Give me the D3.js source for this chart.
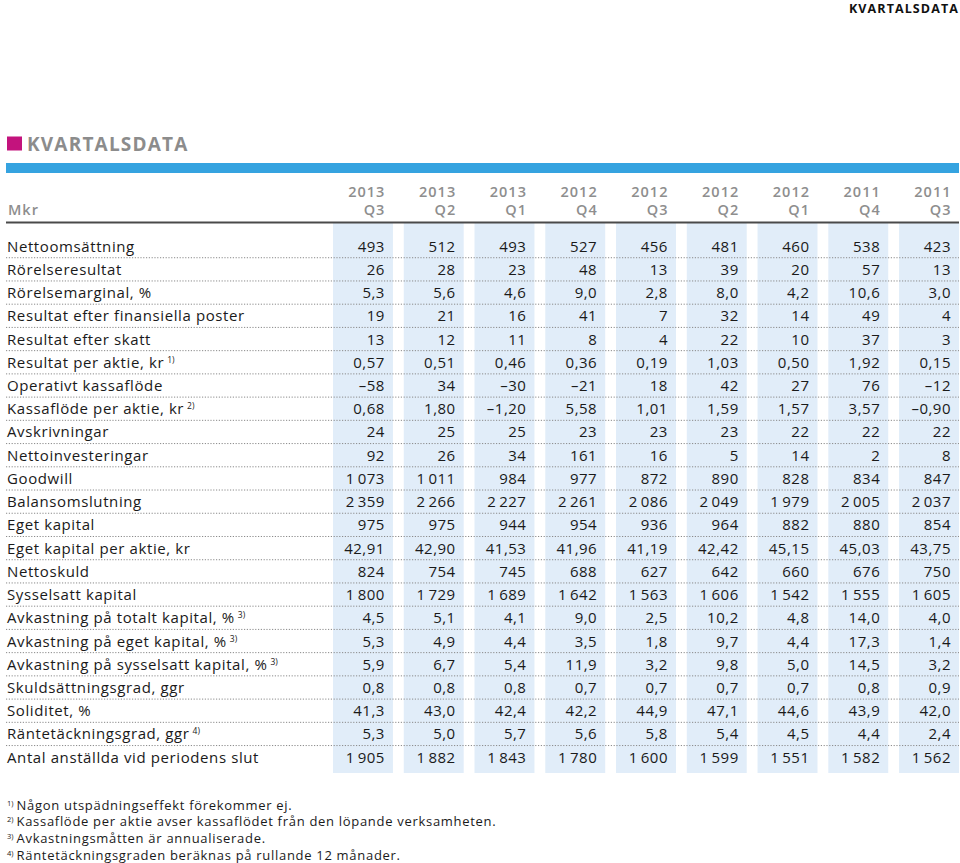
<!DOCTYPE html>
<html>
<head>
<meta charset="utf-8">
<script src="https://cdn.jsdelivr.net/npm/d3@7"></script>
<style>
  html, body { margin: 0; padding: 0; background: #fff; }
  svg { display: block; }
  text { font-family: "Open Sans", "Noto Sans", sans-serif; }
</style>
</head>
<body>
<svg id="chart" width="960" height="863"></svg>
<script>
// ---------- data ----------
const years    = ["2013", "2013", "2013", "2012", "2012", "2012", "2012", "2011", "2011"];
const quarters = ["Q3", "Q2", "Q1", "Q4", "Q3", "Q2", "Q1", "Q4", "Q3"];

const rowLabels = [
  "Nettoomsättning",
  "Rörelseresultat",
  "Rörelsemarginal, %",
  "Resultat efter finansiella poster",
  "Resultat efter skatt",
  "Resultat per aktie, kr",
  "Operativt kassaflöde",
  "Kassaflöde per aktie, kr",
  "Avskrivningar",
  "Nettoinvesteringar",
  "Goodwill",
  "Balansomslutning",
  "Eget kapital",
  "Eget kapital per aktie, kr",
  "Nettoskuld",
  "Sysselsatt kapital",
  "Avkastning på totalt kapital, %",
  "Avkastning på eget kapital, %",
  "Avkastning på sysselsatt kapital, %",
  "Skuldsättningsgrad, ggr",
  "Soliditet, %",
  "Räntetäckningsgrad, ggr",
  "Antal anställda vid periodens slut"
];
const rowNotes    = ["", "", "", "", "", "1)", "", "2)", "", "", "", "", "", "", "", "", "3)", "3)", "3)", "", "", "4)", ""];
const rowDecimals = [0, 0, 1, 0, 0, 2, 0, 2, 0, 0, 0, 0, 0, 2, 0, 0, 1, 1, 1, 1, 1, 1, 0];

const nettoomsattning   = [493, 512, 493, 527, 456, 481, 460, 538, 423];
const rorelseresultat   = [26, 28, 23, 48, 13, 39, 20, 57, 13];
const rorelsemarginal   = [5.3, 5.6, 4.6, 9.0, 2.8, 8.0, 4.2, 10.6, 3.0];
const resultatFinans    = [19, 21, 16, 41, 7, 32, 14, 49, 4];
const resultatSkatt     = [13, 12, 11, 8, 4, 22, 10, 37, 3];
const resultatPerAktie  = [0.57, 0.51, 0.46, 0.36, 0.19, 1.03, 0.50, 1.92, 0.15];
const operativtKassa    = [-58, 34, -30, -21, 18, 42, 27, 76, -12];
const kassaPerAktie     = [0.68, 1.80, -1.20, 5.58, 1.01, 1.59, 1.57, 3.57, -0.90];
const avskrivningar     = [24, 25, 25, 23, 23, 23, 22, 22, 22];
const nettoinvest       = [92, 26, 34, 161, 16, 5, 14, 2, 8];
const goodwill          = [1073, 1011, 984, 977, 872, 890, 828, 834, 847];
const balansomslutning  = [2359, 2266, 2227, 2261, 2086, 2049, 1979, 2005, 2037];
const egetKapital       = [975, 975, 944, 954, 936, 964, 882, 880, 854];
const egetKapitalAktie  = [42.91, 42.90, 41.53, 41.96, 41.19, 42.42, 45.15, 45.03, 43.75];
const nettoskuld        = [824, 754, 745, 688, 627, 642, 660, 676, 750];
const sysselsattKapital = [1800, 1729, 1689, 1642, 1563, 1606, 1542, 1555, 1605];
const avkTotalt         = [4.5, 5.1, 4.1, 9.0, 2.5, 10.2, 4.8, 14.0, 4.0];
const avkEget           = [5.3, 4.9, 4.4, 3.5, 1.8, 9.7, 4.4, 17.3, 1.4];
const avkSysselsatt     = [5.9, 6.7, 5.4, 11.9, 3.2, 9.8, 5.0, 14.5, 3.2];
const skuldsattning     = [0.8, 0.8, 0.8, 0.7, 0.7, 0.7, 0.7, 0.8, 0.9];
const soliditet         = [41.3, 43.0, 42.4, 42.2, 44.9, 47.1, 44.6, 43.9, 42.0];
const rantetackning     = [5.3, 5.0, 5.7, 5.6, 5.8, 5.4, 4.5, 4.4, 2.4];
const anstallda         = [1905, 1882, 1843, 1780, 1600, 1599, 1551, 1582, 1562];

const footnotes = [
  ["1)", "Någon utspädningseffekt förekommer ej."],
  ["2)", "Kassaflöde per aktie avser kassaflödet från den löpande verksamheten."],
  ["3)", "Avkastningsmåtten är annualiserade."],
  ["4)", "Räntetäckningsgraden beräknas på rullande 12 månader."]
];

const rowValues = [
  nettoomsattning, rorelseresultat, rorelsemarginal, resultatFinans, resultatSkatt,
  resultatPerAktie, operativtKassa, kassaPerAktie, avskrivningar, nettoinvest,
  goodwill, balansomslutning, egetKapital, egetKapitalAktie, nettoskuld,
  sysselsattKapital, avkTotalt, avkEget, avkSysselsatt, skuldsattning,
  soliditet, rantetackning, anstallda
];

// ---------- drawing ----------
const svg = d3.select("#chart");
const colIds = d3.range(years.length);

const locale = d3.formatLocale({
  decimal: ",", thousands: "\u2009", grouping: [3], currency: ["", ""], minus: "\u2013"
});
const fmt = d => locale.format(",." + d + "f");

const x = d3.scaleBand().domain(colIds).range([333, 959]).paddingInner(0.153).paddingOuter(0);
const y = d3.scaleBand().domain(d3.range(rowLabels.length)).range([234.5, 234.5 + 23.23 * rowLabels.length]);
const textRight = j => x(j) + x.bandwidth() - 8.5;

// top-right running header
svg.append("text").attr("x", 959).attr("y", 13).attr("text-anchor", "end")
  .attr("font-size", 12.5).attr("font-weight", 700).attr("letter-spacing", 1.1)
  .attr("fill", "#111").text("KVARTALSDATA");

// title
svg.append("rect").attr("x", 7).attr("y", 136.5).attr("width", 15).attr("height", 14).attr("fill", "#c3137d");
svg.append("text").attr("x", 27).attr("y", 150.5).attr("font-size", 19).attr("font-weight", 700)
  .attr("letter-spacing", 1.2).attr("fill", "#8c8c8c").text("KVARTALSDATA");

// blue bar
svg.append("rect").attr("x", 6).attr("y", 163).attr("width", 953).attr("height", 10).attr("fill", "#35a3e0");

// column bands
svg.append("g").selectAll("rect").data(colIds).join("rect")
  .attr("x", d => x(d)).attr("y", 223).attr("width", x.bandwidth()).attr("height", 773 - 223)
  .attr("fill", "#e1edf9");

// header text
const hdr = svg.append("g").attr("fill", "#8e8e8e").attr("font-size", 14.5).attr("font-weight", 600)
  .attr("letter-spacing", 1);
hdr.append("text").attr("x", 8).attr("y", 214.5).text("Mkr");
hdr.selectAll("text.yr").data(colIds).join("text").attr("class", "yr")
  .attr("x", d => textRight(d) + 1).attr("y", 196.5).attr("text-anchor", "end").text(d => years[d]);
hdr.selectAll("text.q").data(colIds).join("text").attr("class", "q")
  .attr("x", d => textRight(d) + 1).attr("y", 214.5).attr("text-anchor", "end").text(d => quarters[d]);

// header line
svg.append("line").attr("x1", 6).attr("x2", 959).attr("y1", 222.5).attr("y2", 222.5)
  .attr("stroke", "#4a4a4a").attr("stroke-width", 2);

// dotted separators
svg.append("g").selectAll("line").data(d3.range(rowLabels.length - 1)).join("line")
  .attr("x1", 6).attr("x2", 959)
  .attr("y1", d => y(d) + y.bandwidth()).attr("y2", d => y(d) + y.bandwidth())
  .attr("stroke", "#8a8a8a").attr("stroke-width", 1).attr("stroke-dasharray", "1.2,1.6");

// rows
const rows = svg.append("g").selectAll("g").data(rowLabels).join("g")
  .attr("transform", (d, i) => `translate(0,${y(i) + y.bandwidth() / 2 + 5.5})`);

const lab = rows.append("text").attr("x", 7).attr("font-size", 15).attr("letter-spacing", 0.6)
  .attr("fill", "#1a1a1a");
lab.append("tspan").text(d => d);
lab.append("tspan").attr("dx", 3).attr("dy", -5).attr("font-size", 8.5).attr("letter-spacing", 0)
  .text((d, i) => rowNotes[i]);

rows.each(function(d, i) {
  d3.select(this).selectAll("text.v").data(rowValues[i]).join("text").attr("class", "v")
    .attr("x", (v, j) => textRight(j) + 0.5)
    .attr("text-anchor", "end").attr("font-size", 15).attr("letter-spacing", 0.5)
    .attr("fill", "#1a1a1a")
    .text(v => fmt(rowDecimals[i])(v));
});

// footnotes
const fn = svg.append("g").selectAll("text").data(footnotes).join("text")
  .attr("x", 7).attr("y", (d, i) => 809.5 + i * 16.8).attr("font-size", 13).attr("fill", "#1a1a1a");
fn.append("tspan").attr("font-size", 7.5).attr("dy", -4).text(d => d[0]);
fn.append("tspan").attr("dx", 3).attr("dy", 4).attr("letter-spacing", 0.7).text(d => d[1]);
</script>
</body>
</html>
